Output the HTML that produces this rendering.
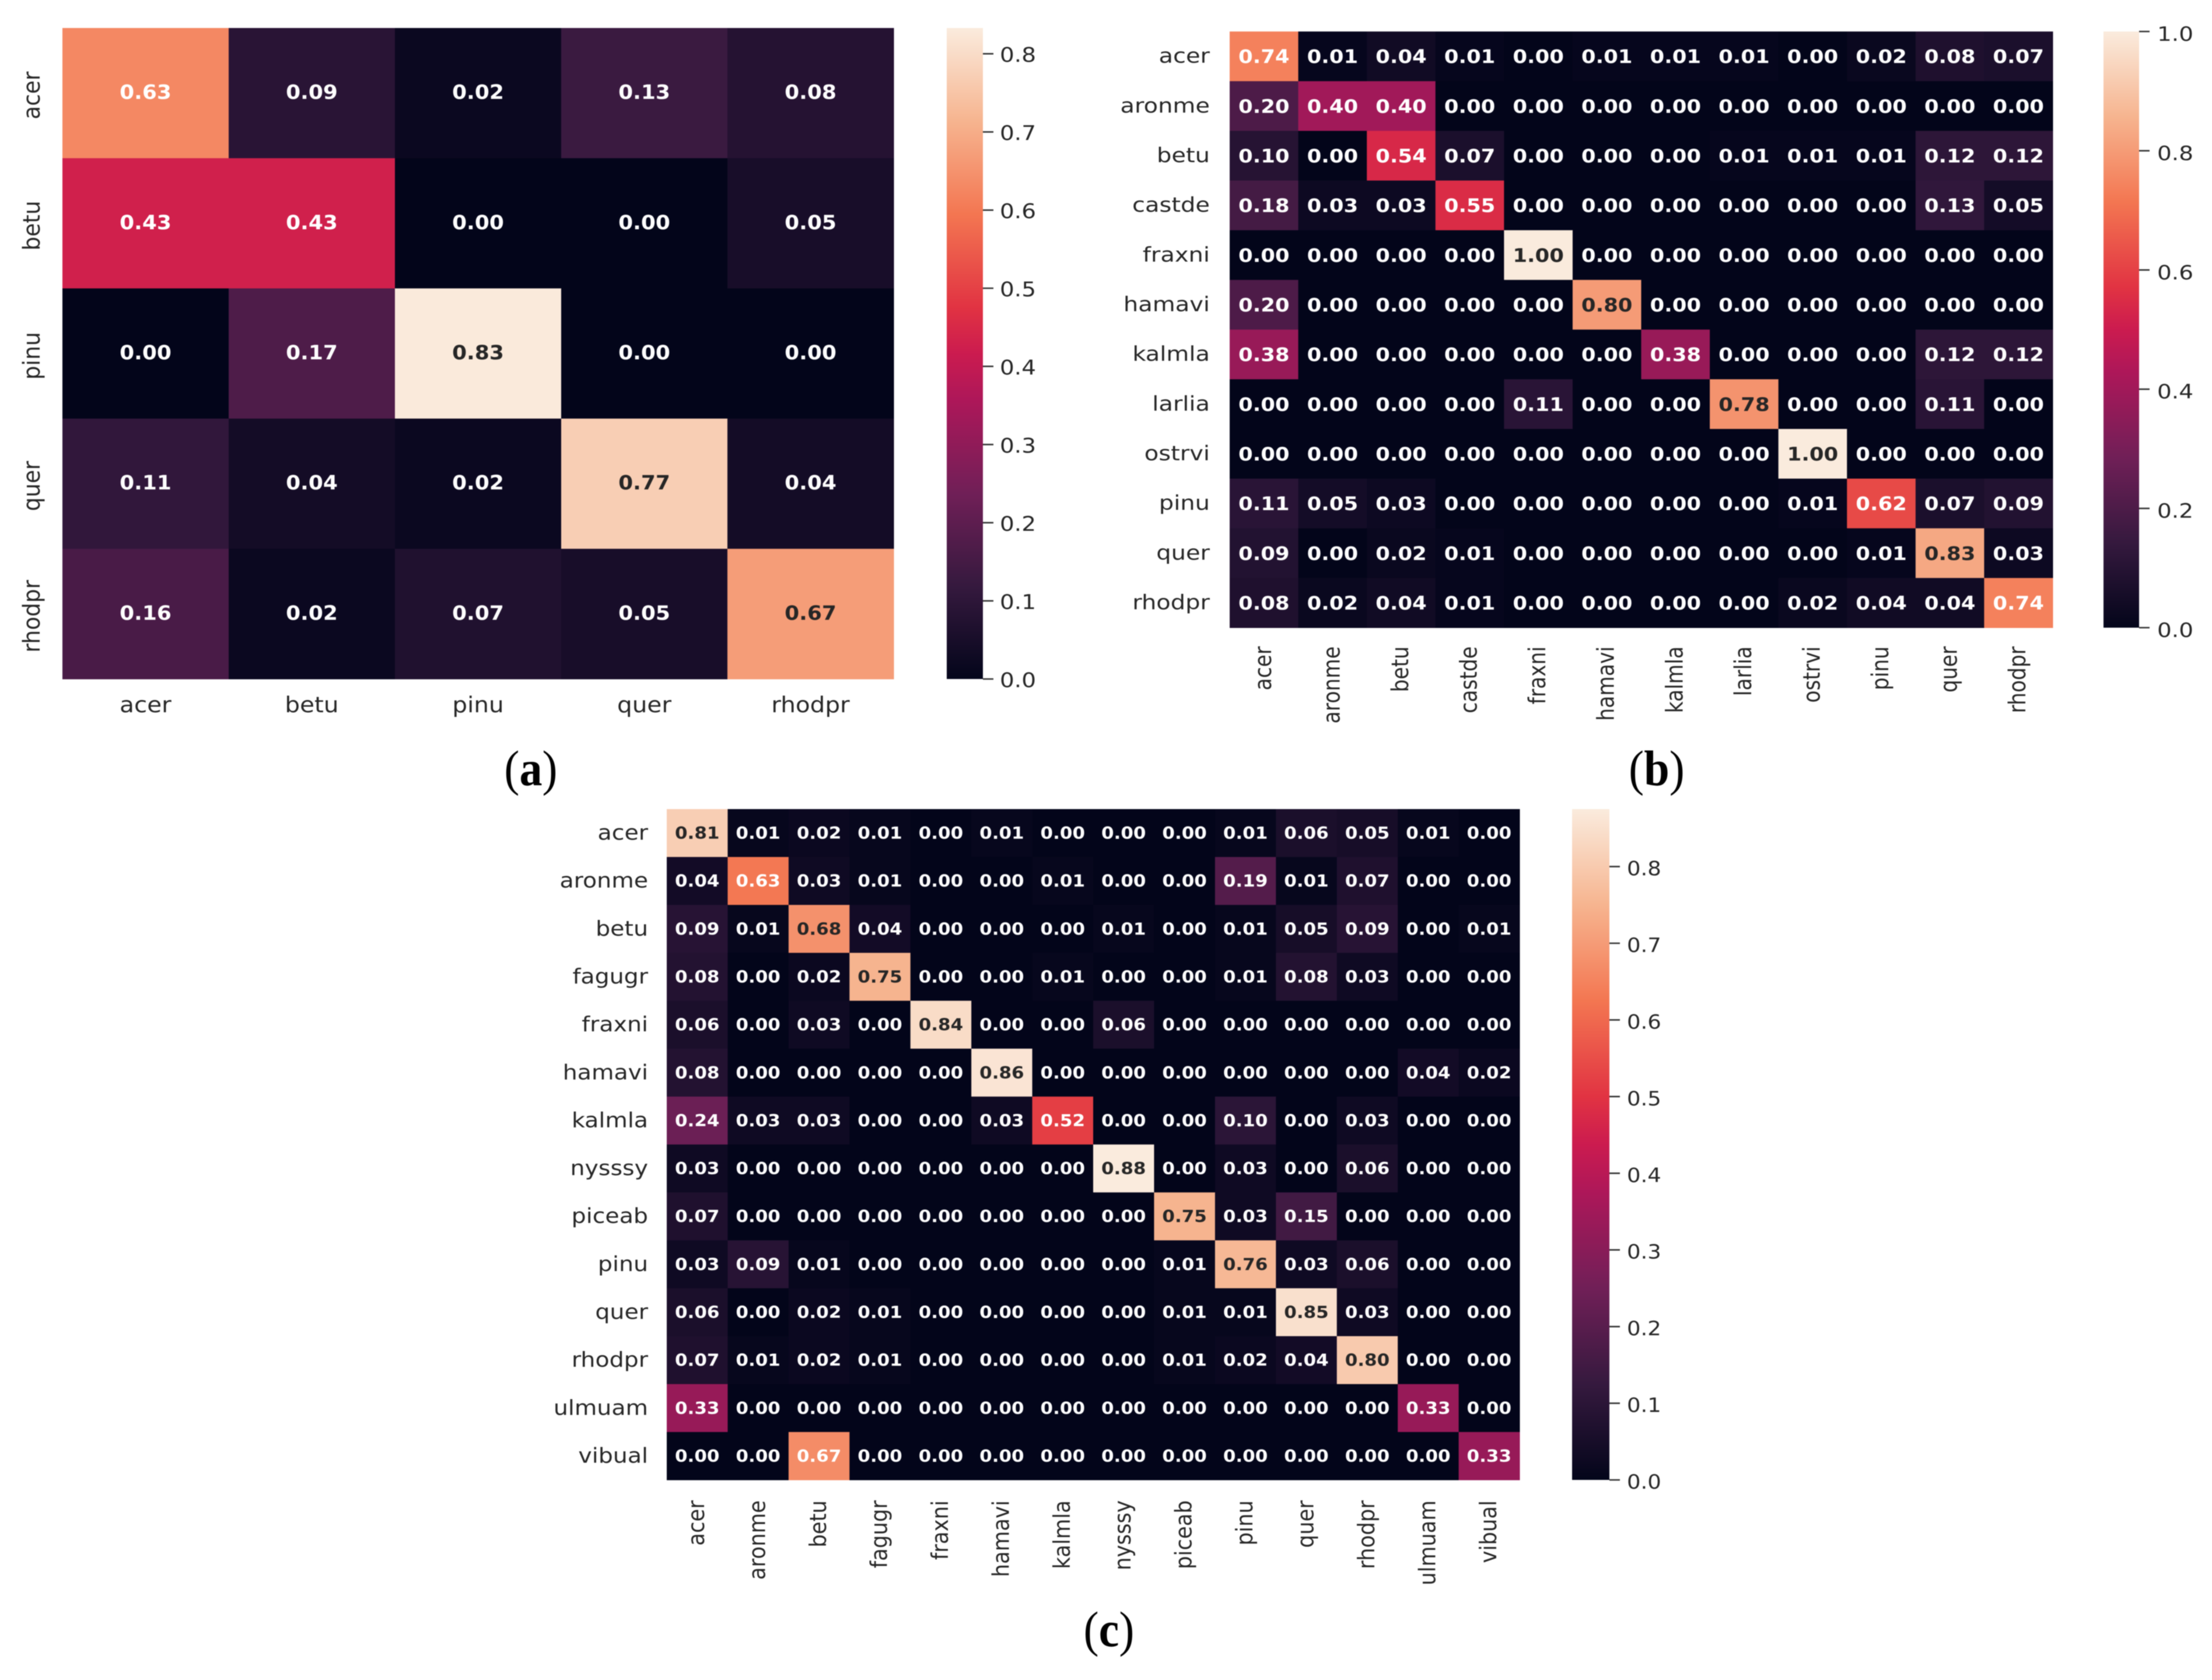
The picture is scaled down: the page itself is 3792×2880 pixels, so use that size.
<!DOCTYPE html>
<html lang="en">
<head>
<meta charset="utf-8">
<title>Confusion matrices (a), (b), (c)</title>
<style>
  html, body { margin: 0; padding: 0; background: #fff; }
  #figure { display: block; width: 3792px; height: 2880px; background: #fff; }
  #figure-content { filter: blur(0.8px); }
  .sans { font-family: "DejaVu Sans", "Liberation Sans", sans-serif; font-size: 100px; }
  .caption { font-family: "Liberation Serif", serif; font-size: 86px; fill: #000; }
</style>
</head>
<body>
<svg id="figure" xmlns="http://www.w3.org/2000/svg" width="3792" height="2880" viewBox="0 0 3792 2880">
  <defs id="gradient-defs"></defs>
  <rect x="0" y="0" width="3792" height="2880" fill="#ffffff"/>
  <g id="figure-content">
    <g id="panel-a"></g>
    <g id="panel-b"></g>
    <g id="panel-c"></g>
    <text class="caption" transform="translate(910,1346) scale(0.91,1)" text-anchor="middle">(<tspan font-weight="bold">a</tspan>)</text>
    <text class="caption" transform="translate(2840,1346) scale(0.91,1)" text-anchor="middle">(<tspan font-weight="bold">b</tspan>)</text>
    <text class="caption" transform="translate(1901,2822) scale(0.91,1)" text-anchor="middle">(<tspan font-weight="bold">c</tspan>)</text>
  </g>
</svg>
<script>
/* ---------- data: panel (a) ---------- */
const categoriesA = ["acer", "betu", "pinu", "quer", "rhodpr"];
const valuesA = [
  [0.63, 0.09, 0.02, 0.13, 0.08],
  [0.43, 0.43, 0.00, 0.00, 0.05],
  [0.00, 0.17, 0.83, 0.00, 0.00],
  [0.11, 0.04, 0.02, 0.77, 0.04],
  [0.16, 0.02, 0.07, 0.05, 0.67]
];
const colorbarTicksA = [0.0, 0.1, 0.2, 0.3, 0.4, 0.5, 0.6, 0.7, 0.8];
const vmaxA = 0.833;

/* ---------- data: panel (b) ---------- */
const categoriesB = ["acer", "aronme", "betu", "castde", "fraxni", "hamavi", "kalmla", "larlia", "ostrvi", "pinu", "quer", "rhodpr"];
const valuesB = [
  [0.74, 0.01, 0.04, 0.01, 0.00, 0.01, 0.01, 0.01, 0.00, 0.02, 0.08, 0.07],
  [0.20, 0.40, 0.40, 0.00, 0.00, 0.00, 0.00, 0.00, 0.00, 0.00, 0.00, 0.00],
  [0.10, 0.00, 0.54, 0.07, 0.00, 0.00, 0.00, 0.01, 0.01, 0.01, 0.12, 0.12],
  [0.18, 0.03, 0.03, 0.55, 0.00, 0.00, 0.00, 0.00, 0.00, 0.00, 0.13, 0.05],
  [0.00, 0.00, 0.00, 0.00, 1.00, 0.00, 0.00, 0.00, 0.00, 0.00, 0.00, 0.00],
  [0.20, 0.00, 0.00, 0.00, 0.00, 0.80, 0.00, 0.00, 0.00, 0.00, 0.00, 0.00],
  [0.38, 0.00, 0.00, 0.00, 0.00, 0.00, 0.38, 0.00, 0.00, 0.00, 0.12, 0.12],
  [0.00, 0.00, 0.00, 0.00, 0.11, 0.00, 0.00, 0.78, 0.00, 0.00, 0.11, 0.00],
  [0.00, 0.00, 0.00, 0.00, 0.00, 0.00, 0.00, 0.00, 1.00, 0.00, 0.00, 0.00],
  [0.11, 0.05, 0.03, 0.00, 0.00, 0.00, 0.00, 0.00, 0.01, 0.62, 0.07, 0.09],
  [0.09, 0.00, 0.02, 0.01, 0.00, 0.00, 0.00, 0.00, 0.00, 0.01, 0.83, 0.03],
  [0.08, 0.02, 0.04, 0.01, 0.00, 0.00, 0.00, 0.00, 0.02, 0.04, 0.04, 0.74]
];
const colorbarTicksB = [0.0, 0.2, 0.4, 0.6, 0.8, 1.0];
const vmaxB = 1.0;

/* ---------- data: panel (c) ---------- */
const categoriesC = ["acer", "aronme", "betu", "fagugr", "fraxni", "hamavi", "kalmla", "nysssy", "piceab", "pinu", "quer", "rhodpr", "ulmuam", "vibual"];
const valuesC = [
  [0.81, 0.01, 0.02, 0.01, 0.00, 0.01, 0.00, 0.00, 0.00, 0.01, 0.06, 0.05, 0.01, 0.00],
  [0.04, 0.63, 0.03, 0.01, 0.00, 0.00, 0.01, 0.00, 0.00, 0.19, 0.01, 0.07, 0.00, 0.00],
  [0.09, 0.01, 0.68, 0.04, 0.00, 0.00, 0.00, 0.01, 0.00, 0.01, 0.05, 0.09, 0.00, 0.01],
  [0.08, 0.00, 0.02, 0.75, 0.00, 0.00, 0.01, 0.00, 0.00, 0.01, 0.08, 0.03, 0.00, 0.00],
  [0.06, 0.00, 0.03, 0.00, 0.84, 0.00, 0.00, 0.06, 0.00, 0.00, 0.00, 0.00, 0.00, 0.00],
  [0.08, 0.00, 0.00, 0.00, 0.00, 0.86, 0.00, 0.00, 0.00, 0.00, 0.00, 0.00, 0.04, 0.02],
  [0.24, 0.03, 0.03, 0.00, 0.00, 0.03, 0.52, 0.00, 0.00, 0.10, 0.00, 0.03, 0.00, 0.00],
  [0.03, 0.00, 0.00, 0.00, 0.00, 0.00, 0.00, 0.88, 0.00, 0.03, 0.00, 0.06, 0.00, 0.00],
  [0.07, 0.00, 0.00, 0.00, 0.00, 0.00, 0.00, 0.00, 0.75, 0.03, 0.15, 0.00, 0.00, 0.00],
  [0.03, 0.09, 0.01, 0.00, 0.00, 0.00, 0.00, 0.00, 0.01, 0.76, 0.03, 0.06, 0.00, 0.00],
  [0.06, 0.00, 0.02, 0.01, 0.00, 0.00, 0.00, 0.00, 0.01, 0.01, 0.85, 0.03, 0.00, 0.00],
  [0.07, 0.01, 0.02, 0.01, 0.00, 0.00, 0.00, 0.00, 0.01, 0.02, 0.04, 0.80, 0.00, 0.00],
  [0.33, 0.00, 0.00, 0.00, 0.00, 0.00, 0.00, 0.00, 0.00, 0.00, 0.00, 0.00, 0.33, 0.00],
  [0.00, 0.00, 0.67, 0.00, 0.00, 0.00, 0.00, 0.00, 0.00, 0.00, 0.00, 0.00, 0.00, 0.33]
];
const colorbarTicksC = [0.0, 0.1, 0.2, 0.3, 0.4, 0.5, 0.6, 0.7, 0.8];
const vmaxC = 0.875;

/* ---------- colour map (rocket) ---------- */
const rocketT = [0, 0.1429, 0.2857, 0.4286, 0.5, 0.5714, 0.7143, 0.8571, 1];
const rocketRGB = [[3,5,26],[53,25,62],[112,31,87],[173,23,89],[203,27,79],[225,51,66],[243,118,81],[246,180,143],[250,235,221]];

function rocket(t) {
  const x = Math.max(0, Math.min(1, t));
  let i = 0;
  while (i < rocketT.length - 2 && x > rocketT[i + 1]) i++;
  const f = (x - rocketT[i]) / (rocketT[i + 1] - rocketT[i]);
  const a = rocketRGB[i], b = rocketRGB[i + 1];
  return "rgb(" + a.map((c, k) => Math.round(c + (b[k] - c) * f)).join(",") + ")";
}

const SVGNS = "http://www.w3.org/2000/svg";
function make(tag, parent) {
  const el = document.createElementNS(SVGNS, tag);
  parent.appendChild(el);
  return el;
}

/* A text label whose glyphs are stretched like the reference raster.
   rotated labels read bottom-to-top. */
function makeLabel(parent, str, x, y, sx, sy, anchor, rotated, bold, fill) {
  const el = make("text", parent);
  el.setAttribute("class", "sans");
  el.setAttribute("text-anchor", anchor);
  el.setAttribute("fill", fill);
  if (bold) el.setAttribute("font-weight", "bold");
  el.setAttribute("transform",
    "translate(" + x + "," + y + ") scale(" + (sx / 100) + "," + (sy / 100) + ")" + (rotated ? " rotate(-90)" : ""));
  el.textContent = str;
  return el;
}

function drawPanel(id, categories, values, colorbarTicks, vmax, L) {
  const panel = document.getElementById(id);
  const n = categories.length;
  const cellW = (L.right - L.left) / n;
  const cellH = (L.bottom - L.top) / n;
  const xBand = i => L.left + i * cellW;
  const yBand = i => L.top + i * cellH;
  const cbY = v => L.bottom - (v / vmax) * (L.bottom - L.top);

  /* heatmap cells */
  const cellGroup = make("g", panel);
  
  
  values.forEach((row, r) => {
    row.forEach((v, c) => {
      const rect = make("rect", cellGroup);
      rect.setAttribute("x", xBand(c));
      rect.setAttribute("y", yBand(r));
      rect.setAttribute("width", cellW + 0.5);
      rect.setAttribute("height", cellH + 0.5);
      rect.setAttribute("fill", rocket(v / vmax));
      
      
    });
  });

  /* printed values */
  const annGroup = make("g", panel);
  
  
  values.forEach((row, r) => {
    row.forEach((v, c) => {
      const fill = v / vmax > 0.77 ? "#262626" : "#ffffff";
      const t = makeLabel(annGroup, v.toFixed(2), xBand(c) + cellW / 2, yBand(r) + cellH / 2 + L.annDy, L.annSx, L.annSy, "middle", false, true, fill);
      
      
    });
  });

  /* x tick labels */
  const xGroup = make("g", panel);
  
  
  categories.forEach((name, i) => {
    const cx = xBand(i) + cellW / 2;
    let t;
    if (L.xRotated) {
      t = makeLabel(xGroup, name, cx + L.xDx, L.bottom + L.xDy, L.sx, L.sy, "end", true, false, "#262626");
    } else {
      t = makeLabel(xGroup, name, cx, L.bottom + L.xDy, L.sx, L.sy, "middle", false, false, "#262626");
    }
    
    
  });

  /* y tick labels */
  const yGroup = make("g", panel);
  
  
  categories.forEach((name, i) => {
    const cy = yBand(i) + cellH / 2;
    let t;
    if (L.yRotated) {
      t = makeLabel(yGroup, name, L.yLabelX, cy + L.yDy, L.sx, L.sy, "middle", true, false, "#262626");
    } else {
      t = makeLabel(yGroup, name, L.yLabelX, cy + L.yDy, L.sx, L.sy, "end", false, false, "#262626");
    }
    
    
  });

  /* colour bar */
  const defs = document.getElementById("gradient-defs");
  const grad = make("linearGradient", defs);
  const gradId = id + "-gradient";
  grad.setAttribute("id", gradId);
  grad.setAttribute("x1", "0");
  grad.setAttribute("y1", "1");
  grad.setAttribute("x2", "0");
  grad.setAttribute("y2", "0");
  rocketT.forEach(t => {
    const s = make("stop", grad);
    s.setAttribute("offset", t);
    s.setAttribute("stop-color", rocket(t));
  });

  const cbGroup = make("g", panel);
  
  
  const bar = make("rect", cbGroup);
  bar.setAttribute("x", L.cbLeft);
  bar.setAttribute("y", L.top);
  bar.setAttribute("width", L.cbRight - L.cbLeft);
  bar.setAttribute("height", L.bottom - L.top);
  bar.setAttribute("fill", "url(#" + gradId + ")");
  
  

  colorbarTicks.forEach(v => {
    const y = cbY(v);
    const tick = make("line", cbGroup);
    tick.setAttribute("x1", L.cbRight);
    tick.setAttribute("x2", L.cbRight + 18);
    tick.setAttribute("y1", y);
    tick.setAttribute("y2", y);
    tick.setAttribute("stroke", "#333333");
    tick.setAttribute("stroke-width", "2.6");
    
    
    const t = makeLabel(cbGroup, v.toFixed(1), L.cbLabelX, y + L.cbDy, L.cbSx, L.cbSy, "start", false, false, "#262626");
    
    
  });
}

drawPanel("panel-a", categoriesA, valuesA, colorbarTicksA, vmaxA, {
  left: 107, right: 1532, top: 48, bottom: 1164,
  sx: 40.5, sy: 37.5, annSx: 36, annSy: 34, annDy: 10,
  xRotated: false, xDx: 0, xDy: 57,
  yRotated: true, yLabelX: 68, yDy: 4,
  cbLeft: 1623, cbRight: 1685, cbLabelX: 1714, cbDy: 14, cbSx: 39, cbSy: 35
});

drawPanel("panel-b", categoriesB, valuesB, colorbarTicksB, vmaxB, {
  left: 2108, right: 3519, top: 54, bottom: 1076,
  sx: 40, sy: 34.5, annSx: 35.5, annSy: 32, annDy: 11.5,
  xRotated: true, xDx: 12, xDy: 32,
  yRotated: false, yLabelX: 2074, yDy: 11,
  cbLeft: 3606, cbRight: 3667, cbLabelX: 3698, cbDy: 16, cbSx: 39, cbSy: 33.5
});

drawPanel("panel-c", categoriesC, valuesC, colorbarTicksC, vmaxC, {
  left: 1143, right: 2605, top: 1387, bottom: 2537,
  sx: 39.5, sy: 35.5, annSx: 31, annSy: 28.5, annDy: 10,
  xRotated: true, xDx: 12, xDy: 35,
  yRotated: false, yLabelX: 1111, yDy: 11.5,
  cbLeft: 2695, cbRight: 2759, cbLabelX: 2789, cbDy: 15, cbSx: 37, cbSy: 34
});
</script>
</body>
</html>
